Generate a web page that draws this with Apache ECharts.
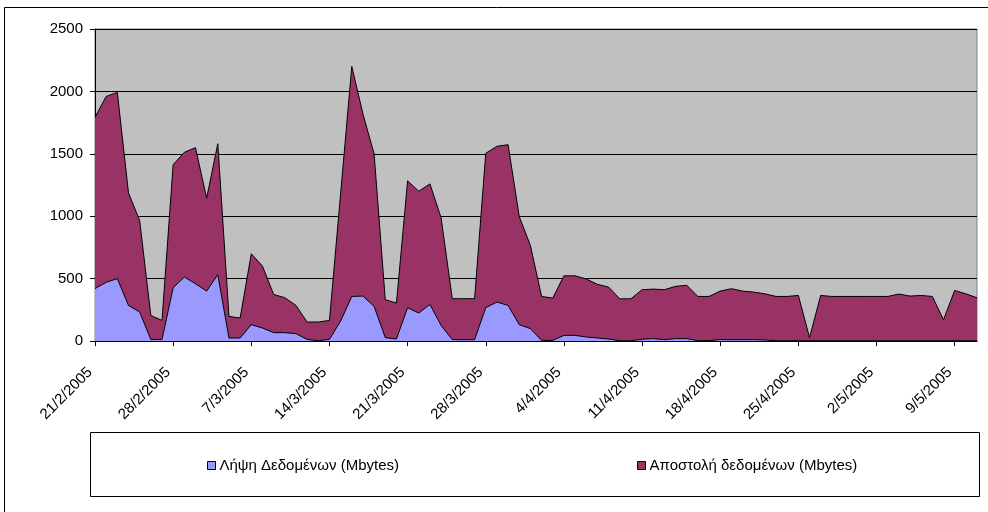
<!DOCTYPE html>
<html>
<head>
<meta charset="utf-8">
<script src="https://cdn.jsdelivr.net/npm/echarts@6/dist/echarts.min.js"></script>
<style>
html,body{margin:0;padding:0;background:#fff;}
#c{width:988px;height:512px;}
</style>
</head>
<body>
<div id="c"></div>
<script>
var dates = [
'21/2/2005','22/2/2005','23/2/2005','24/2/2005','25/2/2005','26/2/2005','27/2/2005',
'28/2/2005','1/3/2005','2/3/2005','3/3/2005','4/3/2005','5/3/2005','6/3/2005',
'7/3/2005','8/3/2005','9/3/2005','10/3/2005','11/3/2005','12/3/2005','13/3/2005',
'14/3/2005','15/3/2005','16/3/2005','17/3/2005','18/3/2005','19/3/2005','20/3/2005',
'21/3/2005','22/3/2005','23/3/2005','24/3/2005','25/3/2005','26/3/2005','27/3/2005',
'28/3/2005','29/3/2005','30/3/2005','31/3/2005','1/4/2005','2/4/2005','3/4/2005',
'4/4/2005','5/4/2005','6/4/2005','7/4/2005','8/4/2005','9/4/2005','10/4/2005',
'11/4/2005','12/4/2005','13/4/2005','14/4/2005','15/4/2005','16/4/2005','17/4/2005',
'18/4/2005','19/4/2005','20/4/2005','21/4/2005','22/4/2005','23/4/2005','24/4/2005',
'25/4/2005','26/4/2005','27/4/2005','28/4/2005','29/4/2005','30/4/2005','1/5/2005',
'2/5/2005','3/5/2005','4/5/2005','5/5/2005','6/5/2005','7/5/2005','8/5/2005',
'9/5/2005','10/5/2005','11/5/2005'
];
var downloadName = 'Λήψη Δεδομένων (Mbytes)';
var uploadName = 'Αποστολή δεδομένων (Mbytes)';
var download = [
420,470,500,285,232,12,12,
427,512,459,400,531,24,24,
131,104,67,67,59,13,2,
13,160,357,360,277,27,16,
267,224,293,125,11,11,11,
267,312,285,131,99,5,5,
45,45,32,24,16,2,2,
14,19,11,19,19,3,3,
11,11,11,11,8,2,2,
2,2,2,2,2,2,2,
2,2,2,2,2,2,2,
2,2,2
];
var upload = [
1372,1490,1492,902,733,193,153,
986,1000,1090,744,1050,173,160,
568,496,306,280,226,139,150,
152,1020,1843,1459,1222,304,288,
1016,976,966,862,328,328,328,
1237,1248,1288,866,666,352,339,
477,477,465,430,416,336,336,
397,397,400,419,427,354,354,
389,408,389,381,370,355,355,
363,25,363,355,355,355,355,
355,355,374,358,363,355,168,
403,376,344
];
var yTicks = [0, 500, 1000, 1500, 2000, 2500];

var FONT = '"Liberation Sans", Arial, sans-serif';
var chart = echarts.init(document.getElementById('c'), null, {renderer: 'canvas'});
chart.setOption({
  animation: false,
  backgroundColor: '#ffffff',
  grid: {
    left: 95, right: 11, top: 29, bottom: 171,
    show: true, backgroundColor: '#C0C0C0', borderColor: '#808080', borderWidth: 1
  },
  xAxis: {
    type: 'category',
    data: dates,
    boundaryGap: false,
    axisLine: {lineStyle: {color: '#000', width: 1}},
    axisTick: {show: true, interval: 6, length: 5, lineStyle: {color: '#000'}},
    axisLabel: {interval: 6, rotate: 45, margin: 24, padding: [0, 7, 0, 0], color: '#000', fontSize: 15, fontFamily: FONT},
    splitLine: {show: false}
  },
  yAxis: {
    type: 'value',
    min: yTicks[0], max: yTicks[yTicks.length - 1], interval: 500,
    axisLine: {show: true, lineStyle: {color: '#000', width: 1}},
    axisTick: {show: true, length: 5, lineStyle: {color: '#000'}},
    axisLabel: {margin: 12, color: '#000', fontSize: 15, fontFamily: FONT, formatter: function (v) { return String(v); }},
    splitLine: {show: true, lineStyle: {color: '#000', width: 1}}
  },
  legend: [
    {
      data: [downloadName], left: 202, top: 453, itemWidth: 8, itemHeight: 8, itemGap: 4,
      icon: 'rect',
      textStyle: {color: '#000', fontSize: 15, fontFamily: FONT, padding: [0, 0, 0, -1]},
      itemStyle: {borderColor: '#000', borderWidth: 1}
    },
    {
      data: [uploadName], left: 632, top: 453, itemWidth: 8, itemHeight: 8, itemGap: 4,
      icon: 'rect',
      textStyle: {color: '#000', fontSize: 15, fontFamily: FONT, padding: [0, 0, 0, -1]},
      itemStyle: {borderColor: '#000', borderWidth: 1}
    }
  ],
  graphic: [
    {type: 'rect', shape: {x: 4.5, y: 7.5, width: 1000, height: 520}, style: {fill: 'none', stroke: '#000', lineWidth: 1}, silent: true, z: -1},
    {type: 'rect', shape: {x: 90.5, y: 432.5, width: 889, height: 64}, style: {fill: 'none', stroke: '#000', lineWidth: 1}, silent: true, z: -1}
  ],
  series: [
    {
      name: downloadName, type: 'line', stack: 'total', data: download,
      symbol: 'none', lineStyle: {color: '#000', width: 1},
      itemStyle: {color: '#9999FF'},
      areaStyle: {color: '#9999FF', opacity: 1}
    },
    {
      name: uploadName, type: 'line', stack: 'total', data: upload,
      symbol: 'none', lineStyle: {color: '#000', width: 1},
      itemStyle: {color: '#993366'},
      areaStyle: {color: '#993366', opacity: 1}
    }
  ]
});
</script>
</body>
</html>
